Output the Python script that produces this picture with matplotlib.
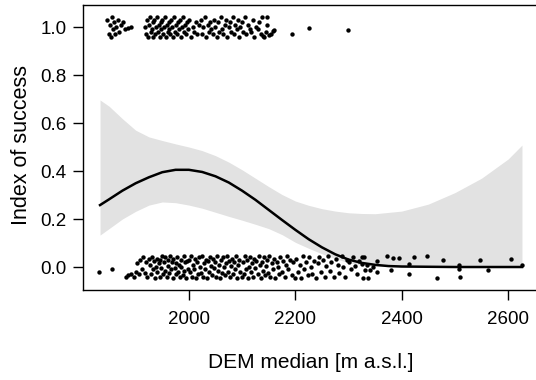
import matplotlib
matplotlib.use("Agg")
import matplotlib.pyplot as plt

plt.rcParams["font.family"] = ["Liberation Sans", "DejaVu Sans"]

# fitted probability curve
fit_x = [1833, 1850, 1875, 1900, 1925, 1950, 1975, 2000, 2025, 2050,
         2075, 2100, 2125, 2150, 2175, 2200, 2225, 2250, 2275, 2300,
         2325, 2350, 2375, 2400, 2450, 2500, 2626]
fit_y = [0.258, 0.282, 0.318, 0.349, 0.374, 0.395, 0.405, 0.405, 0.396, 0.378,
         0.352, 0.318, 0.280, 0.238, 0.196, 0.155, 0.116, 0.082, 0.053, 0.031,
         0.017, 0.009, 0.004, 0.002, 0.001, 0.0, 0.0]

# confidence band
band_x = [1833, 1850, 1875, 1900, 1925, 1950, 1975, 2000, 2025, 2050,
          2075, 2100, 2125, 2150, 2175, 2200, 2225, 2250, 2275, 2300,
          2325, 2350, 2400, 2450, 2500, 2550, 2600, 2626]
band_hi = [0.696, 0.670, 0.618, 0.570, 0.542, 0.527, 0.513, 0.500, 0.485, 0.464,
           0.437, 0.405, 0.370, 0.335, 0.302, 0.275, 0.257, 0.243, 0.233, 0.226,
           0.223, 0.222, 0.233, 0.262, 0.310, 0.370, 0.450, 0.508]
band_lo = [0.133, 0.160, 0.200, 0.232, 0.258, 0.271, 0.268, 0.258, 0.245, 0.228,
           0.211, 0.195, 0.178, 0.160, 0.135, 0.103, 0.078, 0.055, 0.035, 0.018,
           0.008, 0.003, 0.001, 0.0, 0.0, 0.0, 0.0, 0.0]

# successes (jittered around 1)
succ_x = [1846, 1849, 1851, 1853, 1855, 1857, 1859, 1861, 1863, 1866,
          1869, 1872, 1876, 1880, 1886, 1891,
          1918, 1920, 1922, 1923, 1925, 1927, 1928, 1930, 1932, 1933,
          1935, 1937, 1938, 1940, 1942, 1943, 1945, 1947, 1948, 1950,
          1952, 1953, 1955, 1957, 1958, 1960, 1962, 1963, 1965, 1967,
          1968, 1970, 1972, 1974, 1975, 1977, 1979, 1981, 1983, 1985,
          1987, 1989, 1991, 1993, 1995, 1997, 1999, 2001, 2004, 2007,
          2010, 2013, 2016, 2019,
          2022, 2025, 2027, 2030, 2032, 2035, 2037, 2040, 2042, 2045,
          2047, 2050, 2052, 2055, 2057, 2060, 2062, 2065, 2067, 2070,
          2072, 2075, 2077, 2080, 2082, 2085, 2087, 2090, 2092, 2095,
          2097, 2100, 2102, 2105, 2108, 2111, 2114,
          2117, 2120, 2123, 2126, 2129, 2132, 2135, 2138, 2141, 2144,
          2147, 2150, 2154, 2158,
          2146, 2139, 2160, 2193, 2226, 2299]
succ_y = [1.03, 0.97, 1.01, 0.96, 1.04, 0.99, 1.02, 0.97, 1.00, 1.03,
          0.98, 1.01, 1.02, 0.99, 0.995, 1.00,
          1.00, 0.97, 1.03, 0.96, 1.01, 1.04, 0.98, 0.99, 1.02, 0.96,
          1.03, 0.97, 1.00, 1.04, 0.98, 1.01, 0.96, 1.02, 0.99, 1.03,
          0.97, 1.00, 1.04, 0.96, 1.01, 0.98, 1.02, 0.99, 0.97, 1.03,
          1.00, 0.96, 1.04, 0.98, 1.01, 0.97, 1.02, 0.99, 1.03, 0.96,
          1.00, 1.04, 0.98, 1.01, 0.97, 1.02, 0.99, 1.03, 0.96, 1.00,
          0.98, 1.02, 0.97, 1.01,
          1.03, 0.97, 1.00, 1.04, 0.96, 1.01, 0.98, 1.02, 0.99, 0.97,
          1.03, 1.00, 0.96, 1.02, 0.98, 1.04, 0.99, 0.97, 1.01, 1.03,
          0.96, 1.00, 1.02, 0.98, 1.04, 0.97, 1.01, 0.99, 1.03, 0.96,
          1.00, 1.02, 0.98, 1.04, 0.97, 1.01, 0.99,
          0.98, 1.03, 0.96, 1.00, 0.99, 1.02, 0.97, 1.04, 0.96, 0.98,
          1.01, 0.965, 0.97, 0.985,
          1.043, 0.9625, 0.9875, 0.971, 0.996, 0.9875]

# failures (jittered around 0)
fail_x = [1832, 1855,
          1881, 1886, 1891, 1896, 1900, 1903, 1906, 1909, 1912, 1914,
          1917, 1920, 1922, 1925,
          1927, 1929, 1931, 1933, 1935, 1936, 1938, 1940, 1941, 1943,
          1945, 1946, 1948, 1950, 1951, 1953, 1955, 1956, 1958, 1960,
          1961, 1963, 1965, 1966, 1968, 1970, 1971, 1973, 1975, 1976,
          1978, 1980, 1981, 1983, 1985, 1986, 1988, 1990, 1991, 1993,
          1995, 1996, 1998,
          2000, 2002, 2004, 2006, 2008, 2010, 2011, 2013, 2015, 2017,
          2019, 2021, 2023, 2025, 2027, 2028, 2030, 2032, 2034, 2036,
          2038, 2040, 2042, 2044, 2045, 2047, 2049, 2051, 2053, 2055,
          2057, 2059, 2061, 2063, 2064, 2066, 2068, 2070, 2072, 2074,
          2076, 2078, 2080, 2081, 2083, 2085, 2087, 2089, 2091, 2093,
          2095, 2097, 2099,
          2101, 2103, 2105, 2107, 2109, 2111, 2113, 2115, 2117, 2119,
          2121, 2123, 2125, 2127, 2129, 2131, 2133, 2135, 2137, 2139,
          2141, 2143, 2145, 2147, 2149, 2151, 2153, 2156, 2158, 2160,
          2162, 2165, 2167, 2170, 2172, 2175, 2177, 2180, 2182, 2185,
          2187, 2190, 2193, 2196, 2199,
          2202, 2205, 2208, 2211, 2214, 2217, 2220, 2223, 2226, 2229,
          2232, 2235, 2238, 2242, 2245, 2248, 2252, 2255, 2258, 2262,
          2265, 2268, 2272, 2276, 2280, 2283, 2287, 2290, 2294, 2298,
          2301, 2305, 2308, 2312, 2316, 2319,
          2325, 2329, 2325, 2334, 2331, 2328, 2337, 2341, 2346, 2353,
          2353, 2372, 2380, 2384, 2395, 2413, 2413, 2424, 2447, 2466,
          2478, 2507, 2507, 2509, 2548, 2563, 2605, 2626]
fail_y = [-0.019, -0.007,
          -0.04, -0.035, -0.03, -0.04, -0.02, 0.015, -0.03, 0.03, -0.01, 0.04,
          -0.025, 0.02, -0.04, 0.035,
          0.01, -0.03, 0.04, -0.01, 0.025, -0.045, 0.0, 0.035, -0.02, 0.015,
          -0.04, 0.03, -0.005, 0.045, -0.03, 0.02, -0.015, 0.04, -0.04, 0.005,
          0.03, -0.025, 0.045, -0.01, 0.02, -0.045, 0.035, -0.005, 0.015, -0.03,
          0.04, -0.02, 0.01, -0.04, 0.03, 0.0, -0.035, 0.045, -0.015, 0.02,
          -0.045, 0.025, -0.01,
          0.03, -0.02, 0.045, -0.04, 0.01, -0.01, 0.035, -0.045, 0.02, -0.03,
          0.04, 0.0, -0.025, 0.045, -0.04, 0.015, -0.01, 0.03, -0.045, 0.025,
          -0.02, 0.04, 0.005, -0.035, 0.035, -0.005, 0.02, -0.04, 0.045, -0.015,
          0.01, -0.045, 0.03, -0.025, 0.04, 0.0, -0.035, 0.015, 0.045, -0.02,
          0.025, -0.04, 0.005, 0.035, -0.03, 0.02, -0.01, 0.045, -0.045, 0.01,
          0.03, -0.02, -0.04,
          0.02, -0.03, 0.045, -0.01, 0.03, -0.045, 0.0, 0.04, -0.02, 0.015,
          -0.04, 0.035, -0.005, 0.025, -0.03, 0.045, 0.01, -0.045, 0.02, -0.015,
          0.04, -0.035, 0.005, 0.03, -0.025, 0.045, -0.04, 0.015, -0.01, 0.035,
          -0.045, 0.02, 0.0, -0.03, 0.04, -0.02, 0.025, -0.04, 0.01, 0.045,
          -0.01, 0.03, -0.035, 0.02, -0.045,
          0.035, -0.02, 0.01, -0.045, 0.045, -0.01, 0.02, -0.035, 0.04, 0.0,
          -0.03, 0.025, -0.045, 0.015, 0.04, -0.02, 0.03, -0.04, 0.005, 0.045,
          -0.015, 0.02, -0.04, 0.035, 0.01, -0.025, 0.045, 0.0, -0.04, 0.03,
          0.02, -0.01, 0.04, 0.005, -0.03, 0.025,
          0.042, 0.042, 0.014, 0.007, -0.014, -0.046, -0.046, -0.014, 0.0, 0.024,
          -0.021, 0.045, -0.014, 0.037, 0.037, 0.014, -0.028, 0.042, 0.045, -0.046,
          0.028, 0.01, -0.007, -0.042, 0.028, -0.014, 0.032, 0.01]

x_ticks = [2000, 2200, 2400, 2600]
y_ticks = [0.0, 0.2, 0.4, 0.6, 0.8, 1.0]

fig = plt.figure(figsize=(5.36, 3.8), dpi=100)
ax = fig.add_axes([83 / 536, 90 / 380, 456 / 536, 285 / 380])

ax.fill_between(band_x, band_lo, band_hi, color="#e2e2e2", linewidth=0)
ax.plot(fit_x, fit_y, color="black", linewidth=1.8)
ax.scatter(succ_x, succ_y, s=10, color="black", linewidths=0)
ax.scatter(fail_x, fail_y, s=10, color="black", linewidths=0)

ax.set_xlim(1801, 2658)
ax.set_ylim(-0.0958, 1.0917)
ax.set_xticks(x_ticks)
ax.set_yticks(y_ticks)
ax.set_yticklabels([f"{v:.1f}" for v in y_ticks])
ax.tick_params(axis="both", direction="out", length=7, width=1, labelsize=13.5)
ax.tick_params(axis="x", pad=8)
ax.tick_params(axis="y", pad=5)
for s in ax.spines.values():
    s.set_linewidth(1)

fig.text(311 / 536, 1 - 363 / 380, "DEM median [m a.s.l.]", fontsize=15,
         ha="center", va="center")
fig.text(22 / 536, 1 - 145 / 380, "Index of success", fontsize=15.5,
         rotation=90, ha="center", va="center")

fig.savefig("out.png", dpi=100)
